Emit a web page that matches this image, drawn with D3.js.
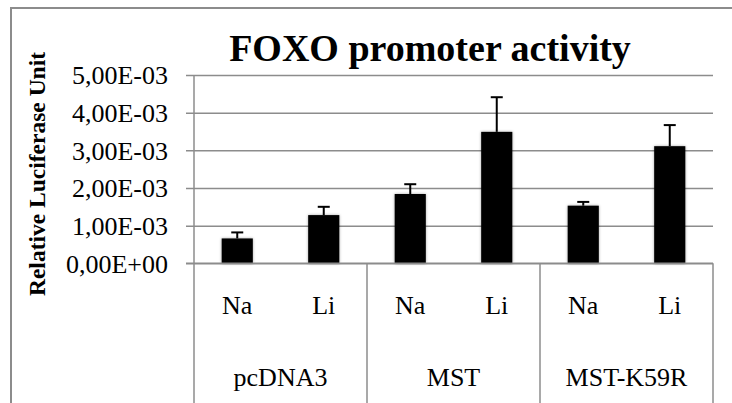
<!DOCTYPE html>
<html>
<head>
<meta charset="utf-8">
<script src="https://cdn.jsdelivr.net/npm/d3@7"></script>
<style>
  html, body { margin: 0; padding: 0; background: #fff; }
  svg { display: block; }
  text { font-family: "Liberation Serif", "Times New Roman", serif; fill: #000; }
</style>
</head>
<body>
<svg id="chart" width="732" height="403"></svg>
<script>
// Luciferase reporter readings, one bar per construct / treatment
const groups = ["pcDNA3", "MST", "MST-K59R"];
const treatments = ["Na", "Li"];
const means = [0.66e-3, 1.28e-3, 1.84e-3, 3.49e-3, 1.53e-3, 3.11e-3];
const errs  = [0.16e-3, 0.22e-3, 0.26e-3, 0.92e-3, 0.10e-3, 0.56e-3];
const yTicks = [0, 1e-3, 2e-3, 3e-3, 4e-3, 5e-3];
const yTickLabels = ["0,00E+00", "1,00E-03", "2,00E-03", "3,00E-03", "4,00E-03", "5,00E-03"];

const rows = [];
groups.forEach((g, gi) => treatments.forEach((t, ti) => {
  const i = gi * treatments.length + ti;
  rows.push({ key: g + "|" + t, group: g, treat: t, mean: means[i], err: errs[i] });
}));

const svg = d3.select("#chart");
const W = 732, H = 403;
const plot = { left: 194, right: 713, top: 75, bottom: 263.3 };
const serif = "'Liberation Serif', 'Times New Roman', serif";

// chart frame
svg.append("rect")
  .attr("x", 11).attr("y", 8).attr("width", W + 20).attr("height", H + 20)
  .attr("fill", "none").attr("stroke", "#8c8c8c").attr("stroke-width", 2);

const x = d3.scaleBand().domain(rows.map(d => d.key)).range([plot.left, plot.right]).padding(0);
const xg = d3.scaleBand().domain(groups).range([plot.left, plot.right]).padding(0);
const y = d3.scaleLinear().domain([0, 5e-3]).range([plot.bottom, plot.top]);

const defs = svg.append("defs");
const f = defs.append("filter").attr("id", "soft").attr("x", "-30%").attr("y", "-10%").attr("width", "160%").attr("height", "130%");
f.append("feGaussianBlur").attr("in", "SourceAlpha").attr("stdDeviation", 1.6).attr("result", "b");
f.append("feComponentTransfer").attr("in", "b").attr("result", "s")
  .append("feFuncA").attr("type", "linear").attr("slope", 0.35);
const m = f.append("feMerge");
m.append("feMergeNode").attr("in", "s");
m.append("feMergeNode").attr("in", "SourceGraphic");

// gridlines with outward ticks
const yAxis = d3.axisLeft(y).tickValues(yTicks)
  .tickSize(-(plot.right - plot.left))
  .tickFormat((d, i) => yTickLabels[i]);
const ga = svg.append("g").attr("transform", `translate(${plot.left},0)`).call(yAxis)
  .attr("font-family", serif).attr("font-size", 26);
ga.select(".domain").remove();
ga.selectAll(".tick line").attr("stroke", "#8c8c8c").attr("stroke-width", 1.5).attr("x1", -8);
ga.selectAll(".tick text")
  .attr("x", -26).attr("dy", "0.34em").attr("fill", "#000");

// value axis line and category dividers
svg.append("line").attr("x1", plot.left).attr("x2", plot.left)
  .attr("y1", plot.top).attr("y2", H).attr("stroke", "#8c8c8c").attr("stroke-width", 1.5);
groups.forEach(g => {
  const xe = xg(g) + xg.bandwidth();
  svg.append("line").attr("x1", xe).attr("x2", xe)
    .attr("y1", plot.bottom).attr("y2", H).attr("stroke", "#8c8c8c").attr("stroke-width", 1.5);
});

// bars
const bw = x.bandwidth() * 0.36;
svg.append("g").selectAll("rect").data(rows).join("rect")
  .attr("x", d => x(d.key) + (x.bandwidth() - bw) / 2)
  .attr("y", d => y(d.mean))
  .attr("width", bw)
  .attr("height", d => y(0) - y(d.mean))
  .attr("fill", "#000")
  .attr("filter", "url(#soft)");

// error bars (upper only)
const eb = svg.append("g").attr("stroke", "#000").attr("stroke-width", 2);
rows.forEach(d => {
  const cx = x(d.key) + x.bandwidth() / 2;
  eb.append("line").attr("x1", cx).attr("x2", cx).attr("y1", y(d.mean)).attr("y2", y(d.mean + d.err));
  eb.append("line").attr("x1", cx - 6).attr("x2", cx + 6).attr("y1", y(d.mean + d.err)).attr("y2", y(d.mean + d.err));
});

// x axis zero line
svg.append("line").attr("x1", plot.left - 8).attr("x2", plot.right)
  .attr("y1", plot.bottom).attr("y2", plot.bottom).attr("stroke", "#8c8c8c").attr("stroke-width", 1.5);

// treatment labels
svg.append("g").selectAll("text").data(rows).join("text")
  .attr("x", d => x(d.key) + x.bandwidth() / 2)
  .attr("y", 305).attr("dy", "0.35em")
  .attr("text-anchor", "middle")
  .attr("font-family", serif).attr("font-size", 26)
  .text(d => d.treat);

// group labels
svg.append("g").selectAll("text").data(groups).join("text")
  .attr("x", d => xg(d) + xg.bandwidth() / 2)
  .attr("y", 377).attr("dy", "0.35em")
  .attr("text-anchor", "middle")
  .attr("font-family", serif).attr("font-size", 26)
  .text(d => d);

// title
svg.append("text")
  .attr("x", 430).attr("y", 61)
  .attr("text-anchor", "middle")
  .attr("font-family", serif).attr("font-size", 38).attr("font-weight", "bold")
  .text("FOXO promoter activity");

// value axis title
svg.append("text")
  .attr("transform", `translate(45,${174}) rotate(-90)`)
  .attr("text-anchor", "middle")
  .attr("font-family", serif).attr("font-size", 23.5).attr("font-weight", "bold")
  .text("Relative Luciferase Unit");
</script>
</body>
</html>
